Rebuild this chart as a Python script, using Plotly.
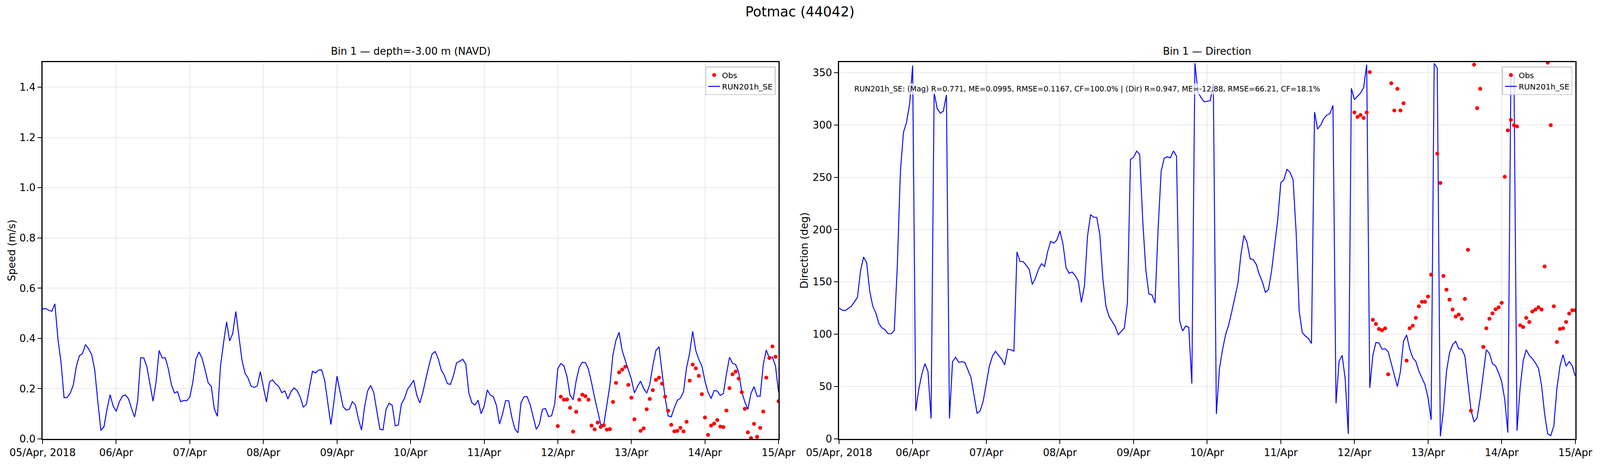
import pandas as pd
import plotly.graph_objects as go

# hourly model output, 05 Apr 00:00 -> 15 Apr 00:00 (241 values)
model_speed = [
    0.517, 0.519, 0.512, 0.508, 0.538, 0.398, 0.305, 0.164, 0.165, 0.182, 0.214, 0.289,
    0.331, 0.340, 0.376, 0.358, 0.336, 0.274, 0.149, 0.034, 0.048, 0.118, 0.176, 0.131,
    0.110, 0.147, 0.170, 0.175, 0.160, 0.121, 0.087, 0.152, 0.324, 0.322, 0.287, 0.217,
    0.150, 0.227, 0.352, 0.322, 0.323, 0.279, 0.216, 0.183, 0.188, 0.148, 0.153, 0.152,
    0.166, 0.227, 0.318, 0.346, 0.321, 0.274, 0.223, 0.209, 0.119, 0.090, 0.289, 0.382,
    0.466, 0.390, 0.420, 0.507, 0.408, 0.314, 0.262, 0.242, 0.210, 0.205, 0.211, 0.268,
    0.206, 0.147, 0.227, 0.235, 0.219, 0.209, 0.184, 0.191, 0.159, 0.188, 0.203, 0.192,
    0.167, 0.127, 0.137, 0.204, 0.269, 0.263, 0.274, 0.275, 0.232, 0.144, 0.057, 0.147,
    0.250, 0.188, 0.128, 0.115, 0.118, 0.148, 0.135, 0.079, 0.035, 0.128, 0.192, 0.213,
    0.184, 0.110, 0.038, 0.036, 0.118, 0.142, 0.134, 0.052, 0.055, 0.139, 0.161, 0.198,
    0.214, 0.234, 0.175, 0.143, 0.185, 0.240, 0.292, 0.338, 0.348, 0.320, 0.274, 0.253,
    0.220, 0.217, 0.253, 0.303, 0.309, 0.317, 0.298, 0.182, 0.144, 0.135, 0.154, 0.100,
    0.131, 0.195, 0.175, 0.168, 0.133, 0.059, 0.100, 0.153, 0.152, 0.087, 0.040, 0.024,
    0.144, 0.168, 0.168, 0.136, 0.087, 0.038, 0.059, 0.118, 0.121, 0.089, 0.092, 0.139,
    0.280, 0.300, 0.291, 0.248, 0.174, 0.156, 0.232, 0.285, 0.305, 0.304, 0.277, 0.225,
    0.165, 0.111, 0.058, 0.056, 0.134, 0.214, 0.336, 0.394, 0.424, 0.352, 0.313, 0.274,
    0.238, 0.183, 0.209, 0.230, 0.201, 0.182, 0.217, 0.292, 0.352, 0.367, 0.266, 0.165,
    0.091, 0.088, 0.124, 0.154, 0.162, 0.188, 0.284, 0.341, 0.428, 0.352, 0.316, 0.290,
    0.230, 0.186, 0.161, 0.193, 0.191, 0.173, 0.181, 0.258, 0.325, 0.301, 0.296, 0.266,
    0.188, 0.147, 0.118, 0.181, 0.208, 0.170, 0.170, 0.295, 0.354, 0.321, 0.326, 0.290,
    0.186,
]

model_dir = [
    125.0, 123.1, 122.6, 124.8, 126.7, 131.0, 135.2, 160.5, 173.8, 168.3, 141.2, 126.7,
    120.2, 110.2, 106.0, 104.3, 100.5, 100.5, 103.6, 165.5, 255.5, 292.9, 302.4, 319.8,
    356.7, 26.7, 47.6, 61.9, 71.9, 64.3, 19.5, 331.0, 315.5, 311.2, 313.1, 328.6,
    19.5, 73.8, 78.1, 73.1, 73.8, 73.1, 66.0, 58.8, 41.7, 24.5, 26.7, 36.2,
    52.9, 69.5, 79.0, 83.8, 79.8, 76.2, 70.7, 85.7, 85.2, 83.8, 178.6, 169.5,
    169.5, 166.0, 161.9, 147.6, 153.6, 161.9, 167.4, 164.8, 179.0, 188.8, 187.1, 190.0,
    198.8, 186.2, 163.6, 158.3, 159.5, 156.0, 150.5, 130.5, 146.4, 194.0, 214.3, 211.9,
    211.7, 195.2, 153.1, 126.9, 117.1, 112.4, 107.6, 99.5, 102.9, 106.0, 130.2, 267.1,
    269.0, 275.0, 271.9, 208.3, 161.4, 138.6, 137.6, 129.8, 200.0, 255.7, 268.3, 269.5,
    268.6, 275.2, 270.2, 113.1, 103.1, 107.9, 106.7, 52.9, 359.0, 331.4, 326.2, 322.1,
    322.6, 323.1, 339.3, 23.8, 67.1, 85.2, 99.5, 108.8, 121.4, 134.5, 148.1, 176.2,
    194.5, 187.6, 172.1, 171.4, 166.7, 157.1, 150.0, 139.8, 142.9, 160.7, 184.5, 209.5,
    244.8, 247.6, 257.6, 254.8, 247.6, 197.6, 121.9, 101.7, 98.3, 96.0, 91.2, 312.4,
    296.0, 300.0, 306.0, 309.5, 310.7, 318.6, 34.0, 74.3, 79.8, 57.1, 4.8, 335.0,
    324.3, 327.4, 330.5, 335.7, 357.6, 48.8, 79.8, 92.1, 91.7, 85.7, 86.2, 83.3,
    71.9, 61.2, 50.0, 64.3, 93.3, 99.3, 86.2, 77.4, 74.3, 64.8, 58.3, 51.9,
    39.3, 18.3, 358.8, 354.3, 2.4, 26.7, 64.3, 82.1, 90.0, 93.3, 86.2, 85.7,
    79.3, 52.9, 27.4, 16.2, 20.2, 39.3, 62.4, 85.2, 81.7, 71.9, 69.8, 63.1,
    54.8, 37.6, 6.0, 346.4, 348.1, 7.9, 48.1, 74.5, 85.2, 79.8, 76.7, 72.6,
    67.4, 51.2, 23.8, 4.8, 3.1, 12.4, 48.1, 69.5, 80.5, 69.5, 73.8, 69.8,
    60.0,
]

# hourly observations, 12 Apr 00:00 -> 15 Apr 00:00 (one gap)
obs_speed = [
    0.051, 0.168, 0.156, 0.157, 0.124, 0.029, 0.108, 0.156, 0.176, 0.170, 0.156, 0.053,
    0.038, 0.065, 0.048, 0.054, 0.037, 0.039, 0.147, 0.223, 0.265, 0.276, 0.287, 0.215,
    0.164, 0.078, None, 0.032, 0.042, 0.118, 0.159, 0.194, 0.235, 0.244, 0.220, 0.168,
    0.112, 0.056, 0.030, 0.032, 0.044, 0.030, 0.068, 0.232, 0.296, 0.281, 0.251, 0.178,
    0.085, 0.016, 0.053, 0.061, 0.075, 0.049, 0.047, 0.113, 0.202, 0.257, 0.268, 0.240,
    0.186, 0.120, 0.026, 0.003, 0.060, 0.008, 0.044, 0.109, 0.244, 0.322, 0.368, 0.327,
    0.150,
]

obs_dir = [
    311.9, 307.6, 309.5, 306.7, 311.9, 350.5, 113.8, 109.8, 105.0, 103.8, 105.7, 61.7,
    339.8, 313.8, 334.5, 313.8, 320.7, 74.8, 105.7, 108.1, 115.7, 126.7, 131.0, 131.0,
    136.0, 156.9, None, 272.6, 244.5, 155.7, 142.6, 133.1, 123.6, 116.9, 118.8, 114.8,
    133.8, 180.7, 26.9, 357.6, 316.0, 334.5, 87.9, 105.7, 114.8, 120.0, 123.8, 125.7,
    130.0, 250.5, 294.8, 304.8, 299.8, 298.6, 108.6, 106.9, 115.7, 111.7, 121.7, 123.6,
    125.7, 123.6, 164.8, 359.5, 299.8, 126.7, 92.6, 105.0, 105.7, 111.7, 119.8, 122.9,
    122.9,
]

day_labels = ["05/Apr, 2018", "06/Apr", "07/Apr", "08/Apr", "09/Apr", "10/Apr",
              "11/Apr", "12/Apr", "13/Apr", "14/Apr", "15/Apr"]

stats_text = ("RUN201h_SE: (Mag) R=0.771, ME=0.0995, RMSE=0.1167, CF=100.0% | "
              "(Dir) R=0.947, ME=-12.88, RMSE=66.21, CF=18.1%")

assert len(model_speed) == 241 and len(model_dir) == 241
assert len(obs_speed) == 73 and len(obs_dir) == 73

times = pd.date_range("2018-04-05", periods=len(model_speed), freq="h")
obs_times = times[168:]
day_ticks = pd.date_range("2018-04-05", "2018-04-15", freq="D")

FONT = "DejaVu Sans"
# layout is measured on the 5000x1200 reference; the figure width follows the page
REF_W, REF_H = 5000, 1200
VIEW_W = 4172      # visible page width seen in the screenshots
BODY = 8           # default body margin of the html page
FH = REF_H - 2 * BODY


def px_x(v):
    return (v / REF_W * VIEW_W - BODY) / (VIEW_W - 2 * BODY)


def px_y(v):
    return 1 - (v - BODY) / FH


fig = go.Figure()

fig.add_trace(go.Scatter(x=times, y=model_speed, mode="lines", name="RUN201h_SE",
                         line=dict(color="#0000ff", width=2.4),
                         xaxis="x", yaxis="y", legend="legend"))
fig.add_trace(go.Scatter(x=obs_times, y=obs_speed, mode="markers", name="Obs",
                         marker=dict(color="#ff0000", size=10),
                         xaxis="x", yaxis="y", legend="legend"))
fig.add_trace(go.Scatter(x=times, y=model_dir, mode="lines", name="RUN201h_SE",
                         line=dict(color="#0000ff", width=2.4),
                         xaxis="x2", yaxis="y2", legend="legend2"))
fig.add_trace(go.Scatter(x=obs_times, y=obs_dir, mode="markers", name="Obs",
                         marker=dict(color="#ff0000", size=10),
                         xaxis="x2", yaxis="y2", legend="legend2"))

axis_style = dict(
    showline=True, mirror=True, linecolor="black", linewidth=2.5,
    ticks="outside", ticklen=10, tickwidth=2.2, tickcolor="black",
    showgrid=True, gridcolor="#e9e9e9", gridwidth=2, zeroline=False,
    automargin=False,
    tickfont=dict(family=FONT, size=26, color="black"),
)

x_common = dict(axis_style, type="date", range=[day_ticks[0], day_ticks[-1]],
                tickvals=list(day_ticks), ticktext=day_labels)

ydom = [px_y(1123), px_y(159)]

legend_style = dict(
    bgcolor="rgba(255,255,255,0.8)", bordercolor="#cccccc", borderwidth=2.5,
    font=dict(family=FONT, size=20, color="black"),
    traceorder="reversed", xanchor="right", yanchor="top", y=px_y(170),
)

fig.update_layout(
    autosize=True, height=FH,
    margin=dict(l=0, r=0, t=0, b=0, autoexpand=False),
    template="none",
    plot_bgcolor="white", paper_bgcolor="white",
    font=dict(family=FONT, color="black"),
    xaxis=dict(x_common, domain=[px_x(133), px_x(2433)], anchor="y"),
    yaxis=dict(axis_style, domain=ydom, range=[0, 1.5], dtick=0.2, tick0=0,
               tickformat=".1f", anchor="x"),
    xaxis2=dict(x_common, domain=[px_x(2622), px_x(4923)], anchor="y2"),
    yaxis2=dict(axis_style, domain=ydom, range=[0, 360], dtick=50, tick0=0,
                anchor="x2"),
    legend=dict(legend_style, x=px_x(2424)),
    legend2=dict(legend_style, x=px_x(4914)),
    showlegend=True,
)

annotations = [
    dict(text="Potmac (44042)", x=px_x(2500), y=1.0, yanchor="top", size=35),
    dict(text="Bin 1 — depth=-3.00 m (NAVD)", x=px_x(1283), y=px_y(131), size=26),
    dict(text="Bin 1 — Direction", x=px_x(3772), y=px_y(131), size=26),
    dict(text="Speed (m/s)", x=px_x(36), y=px_y(641), textangle=-90, size=26),
    dict(text="Direction (deg)", x=px_x(2514), y=px_y(641), textangle=-90, size=26),
    dict(text=stats_text, x=px_x(2666), y=px_y(228), xanchor="left",
         bgcolor="rgba(255,255,255,0.7)", borderpad=2, size=19),
]
for a in annotations:
    a.setdefault("xanchor", "center")
    a.setdefault("yanchor", "middle")
    size = a.pop("size")
    fig.add_annotation(xref="paper", yref="paper", showarrow=False,
                       font=dict(family=FONT, size=size, color="black"), **a)

fig.write_html("out.html")
